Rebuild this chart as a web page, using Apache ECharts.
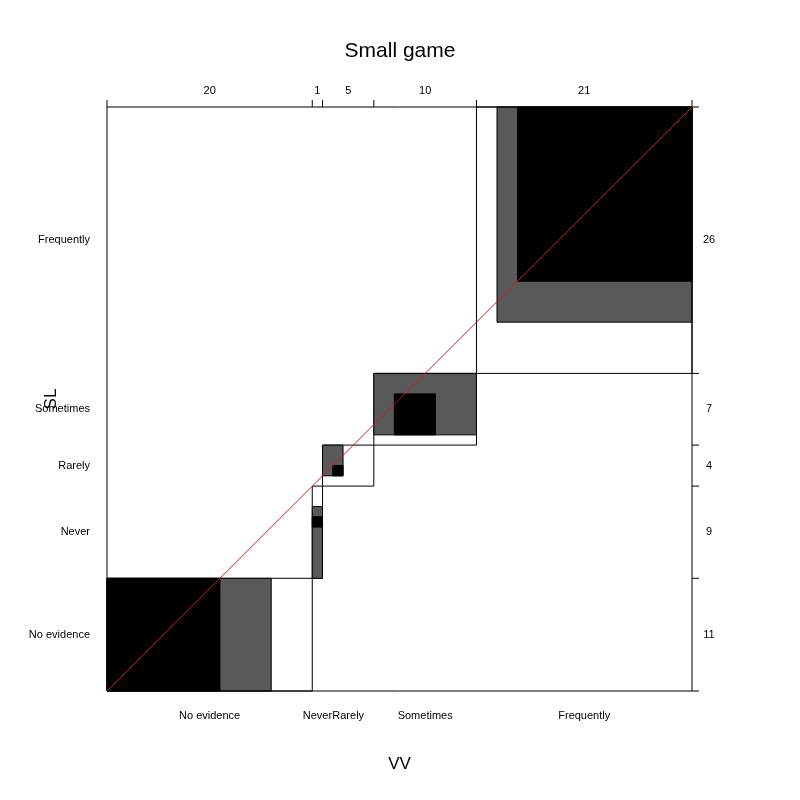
<!DOCTYPE html>
<html>
<head>
<meta charset="UTF-8">
<script src="https://cdn.jsdelivr.net/npm/echarts@6/dist/echarts.min.js"></script>
<style>
  body { margin: 0; background: #fff; }
  #chart { width: 800px; height: 800px; }
</style>
</head>
<body>
<div id="chart"></div>
<script>
// categories and marginal counts
const vvCats = ['No evidence', 'Never', 'Rarely', 'Sometimes', 'Frequently'];
const vvCounts = [20, 1, 5, 10, 21];
const slCats = ['No evidence', 'Never', 'Rarely', 'Sometimes', 'Frequently'];
const slCounts = [11, 9, 4, 7, 26];
// partial agreement (gray) and exact agreement (black) rectangles [x0, x1, y0, y1]
const grayRects = [[0, 16, 0, 11], [20, 21, 11, 18], [21, 23, 21, 24], [26, 36, 25, 31], [38, 57, 36, 57]];
const blackRects = [[0, 11, 0, 11], [20, 21, 16, 17], [22, 23, 21, 22], [28, 32, 25, 29], [40, 57, 40, 57]];

const total = vvCounts.reduce((a, b) => a + b, 0);
const cum = arr => arr.reduce((acc, v) => { acc.push(acc[acc.length - 1] + v); return acc; }, [0]);
const xCum = cum(vvCounts), yCum = cum(slCounts);
const outlineRects = vvCounts.map((_, i) => [xCum[i], xCum[i + 1], yCum[i], yCum[i + 1]]);

const font = 'Liberation Sans, Arial, sans-serif';

function rectSeries(data, fill, stroke) {
  return {
    type: 'custom', data: data, encode: { x: [0, 1], y: [2, 3] },
    renderItem: function (params, api) {
      const p0 = api.coord([api.value(0), api.value(2)]);
      const p1 = api.coord([api.value(1), api.value(3)]);
      return {
        type: 'rect',
        shape: { x: p0[0], y: p1[1], width: p1[0] - p0[0], height: p0[1] - p1[1] },
        style: { fill: fill, stroke: stroke, lineWidth: 1 }
      };
    }
  };
}

const chart = echarts.init(document.getElementById('chart'));
chart.setOption({
  animation: false,
  title: { text: 'Small game', left: 'center', top: 36, textStyle: { fontFamily: font, fontWeight: 'normal', fontSize: 21, color: '#000' } },
  grid: { left: 107, right: 108, top: 107, bottom: 109 },
  xAxis: { type: 'value', min: 0, max: total, show: false },
  yAxis: { type: 'value', min: 0, max: total, show: false },
  series: [
    rectSeries(outlineRects, '#fff', '#000'),
    rectSeries(grayRects, '#595959', '#000'),
    rectSeries(blackRects, '#000', '#000'),
    {
      type: 'line', data: [[0, 0], [total, total]], symbol: 'none',
      lineStyle: { color: '#c0202a', width: 1 }
    },
    {
      type: 'custom', data: [[0, 0]], clip: false,
      renderItem: function (params, api) {
        const ch = [];
        const line = (a, b) => ch.push({ type: 'line', shape: { x1: a[0], y1: a[1], x2: b[0], y2: b[1] }, style: { stroke: '#000', lineWidth: 1 } });
        const text = (t, x, y, align, size) => ch.push({ type: 'text', x: x, y: y, style: { text: t, fontFamily: font, fontSize: size || 11, fill: '#000', align: align, verticalAlign: 'middle' } });
        const bl = api.coord([0, 0]), tr = api.coord([total, total]);
        // frame
        line([bl[0], tr[1]], [tr[0], tr[1]]);
        line([bl[0], bl[1]], [bl[0], tr[1]]);
        line([tr[0], bl[1]], [tr[0], tr[1]]);
        line([bl[0], bl[1]], [tr[0], bl[1]]);
        // top ticks and counts, bottom labels
        xCum.forEach(v => { const p = api.coord([v, total]); line([p[0], p[1] - 7], [p[0], p[1]]); });
        vvCounts.forEach((c, i) => {
          const cx = api.coord([(xCum[i] + xCum[i + 1]) / 2, 0])[0];
          text(String(c), cx, tr[1] - 16, 'center');
          text(vvCats[i], cx, bl[1] + 25, 'center');
        });
        // right ticks and counts, left labels
        yCum.forEach(v => { const p = api.coord([total, v]); line([p[0], p[1]], [p[0] + 7, p[1]]); });
        slCounts.forEach((c, i) => {
          const cy = api.coord([0, (yCum[i] + yCum[i + 1]) / 2])[1];
          text(String(c), tr[0] + 17, cy, 'center');
          text(slCats[i], bl[0] - 17, cy, 'right');
        });
        text('VV', (bl[0] + tr[0]) / 2, 764, 'center', 17);
        ch.push({ type: 'text', x: 51, y: (bl[1] + tr[1]) / 2, rotation: Math.PI / 2,
          style: { text: 'SL', fontFamily: font, fontSize: 17, fill: '#000', align: 'center', verticalAlign: 'middle' } });
        return { type: 'group', children: ch };
      }
    }
  ]
});
</script>
</body>
</html>
